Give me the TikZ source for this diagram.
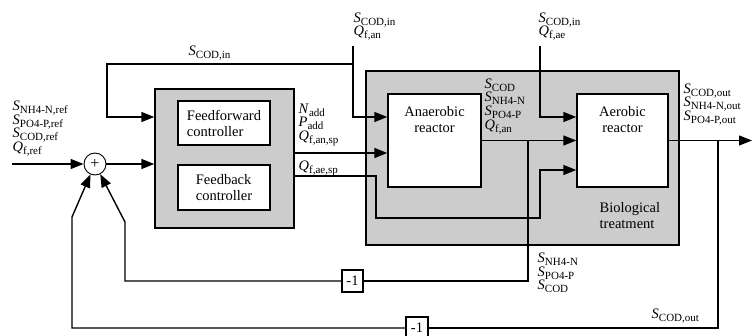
\documentclass[tikz,border=0pt]{standalone}
\usepackage{fontspec}
\setmainfont{Liberation Serif}
\usetikzlibrary{arrows.meta}
\newcommand{\sv}[2]{\textit{#1}\raisebox{-3pt}{\fontsize{11}{11}\selectfont #2}}
\setlength{\lineskiplimit}{-20pt}

\begin{document}
\begin{tikzpicture}[x=1pt,y=1pt,>={Triangle[length=13pt,width=10pt]},line width=1.4pt,
  font=\fontsize{14.5}{16}\selectfont,
  graybox/.style={draw,fill=black!20,inner sep=0pt},
  whitebox/.style={draw,fill=white,inner sep=0pt},
  lbl/.style={align=left,inner sep=0pt,font=\fontsize{14.5}{13.7}\selectfont}]
  \useasboundingbox (0,0) rectangle (753,335);

  \coordinate (in) at (12,171);
  \coordinate (out) at (752,194.5);
  \coordinate (antop) at (353,289);
  \coordinate (aetop) at (540,289);
  \coordinate (jin) at (353,271);
  \coordinate (cin) at (107,218);
  \coordinate (jan) at (528,194.5);
  \coordinate (jae) at (718,194.5);
  \coordinate (b1) at (376,117);
  \coordinate (b2) at (540,117);
  \coordinate (fb1) at (125,113);
  \coordinate (fb2) at (72,118);

  % Controller and its two parts.
  \node[graybox,minimum width=139,minimum height=139] (ctrl) at (224.5,176.5) {};
  \node[whitebox,minimum width=92,minimum height=44,align=left] (ff) at (224,212) {Feedforward\\controller};
  \node[whitebox,minimum width=92,minimum height=45,align=left] (fb) at (224,147.5) {Feedback\\controller};

  % Biological treatment with the two reactors.
  \node[graybox,minimum width=313,minimum height=174] (bio) at (522.5,177) {};
  \node[whitebox,minimum width=93,minimum height=93] (anr) at (434.5,194.5) {};
  \node[whitebox,minimum width=91,minimum height=93] (aer) at (622.5,194.5) {};
  \node[align=center] (anrtext) at (434.5,215) {Anaerobic\\reactor};
  \node[align=center] (aertext) at (622.5,215) {Aerobic\\reactor};
  \node[align=left,anchor=north west,inner sep=0pt] (biotext) at (599,133) {Biological\\treatment};

  \node[draw,circle,fill=white,line width=.9pt,minimum size=22,inner sep=0pt] (sum) at (95,171) {\fontsize{16}{16}\selectfont +};
  \node[whitebox,minimum width=21,minimum height=22] (neg1) at (352.5,54) {-1};
  \node[whitebox,minimum width=22,minimum height=22] (neg2) at (417,7) {-1};

  % Forward path.
  \draw[->] (in) -- (sum);
  \draw[->] (sum) -- (sum -| ctrl.west);
  \draw[->] (jin) -| (cin) -- (cin -| ctrl.west);
  \draw[->] (antop) |- (anr.west |- cin);
  \draw[->] (aetop) |- (aer.west |- cin);
  \draw[->] ([yshift=5.5]ctrl.east) -- ([yshift=5.5]ctrl.east -| anr.west);
  \draw[->] ([yshift=-17.5]ctrl.east) -| (b1) -- (b2) |- ([yshift=-29.5]aer.west);
  \draw[->] (anr.east) -- (aer.west);
  \draw[->] (aer.east) -- (out);

  % Feedback loops.
  \draw (jan) |- (neg1);
  \draw[->] (neg1) -| (fb1) -- (sum);
  \draw (jae) |- (neg2);
  \draw[->] (neg2) -| (fb2) -- (sum);

  % Signal labels.
  \node[lbl,anchor=south west] (lref) at (12,178) {\sv{S}{NH4-N,ref}\\\sv{S}{PO4-P,ref}\\\sv{S}{COD,ref}\\\sv{Q}{f,ref}};
  \node[lbl,anchor=south west] (lcodin) at (188,274) {\sv{S}{COD,in}};
  \node[lbl,anchor=north west] (lan) at (353,323) {\sv{S}{COD,in}\\\sv{Q}{f,an}};
  \node[lbl,anchor=north west] (lae) at (538,323) {\sv{S}{COD,in}\\\sv{Q}{f,ae}};
  \node[lbl,anchor=north west] (lctrl) at (298,232) {\sv{N}{add}\\\sv{P}{add}\\\sv{Q}{f,an,sp}};
  \node[lbl,anchor=north west] (lqae) at (298,175) {\sv{Q}{f,ae,sp}};
  \node[lbl,anchor=north west] (lanout) at (484,257) {\sv{S}{COD}\\\sv{S}{NH4-N}\\\sv{S}{PO4-P}\\\sv{Q}{f,an}};
  \node[lbl,anchor=north west] (laeout) at (683,252) {\sv{S}{COD,out}\\\sv{S}{NH4-N,out}\\\sv{S}{PO4-P,out}};
  \node[lbl,anchor=north west] (lfb1) at (537,83) {\sv{S}{NH4-N}\\\sv{S}{PO4-P}\\\sv{S}{COD}};
  \node[lbl,anchor=south west] (lfb2) at (651,11) {\sv{S}{COD,out}};
\end{tikzpicture}
\end{document}
